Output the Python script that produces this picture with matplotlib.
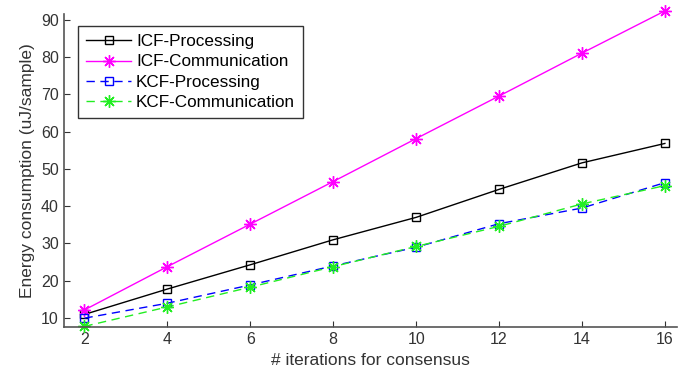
import matplotlib
matplotlib.use('Agg')
import matplotlib.pyplot as plt

plt.rcParams['font.family'] = ['Liberation Sans', 'DejaVu Sans']

iterations = [2, 4, 6, 8, 10, 12, 14, 16]
icf_proc = [11.0, 17.8, 24.3, 31.0, 37.0, 44.5, 51.6, 56.8]
icf_comm = [12.2, 23.8, 35.2, 46.6, 58.1, 69.5, 81.0, 92.3]
kcf_proc = [10.0, 14.0, 18.9, 24.0, 29.0, 35.3, 39.5, 46.3]
kcf_comm = [7.8, 13.0, 18.3, 23.8, 29.2, 34.6, 40.6, 45.5]

fig = plt.figure(figsize=(6.78, 3.76), dpi=100)
ax = fig.add_axes([0.094, 0.13, 0.905, 0.833])

star = (8, 2, 0)
ax.plot(iterations, icf_proc, color='black', marker='s', markersize=6,
        markerfacecolor='none', linewidth=1, label='ICF-Processing', clip_on=False)
ax.plot(iterations, icf_comm, color='magenta', marker=star, markersize=9,
        linewidth=1, label='ICF-Communication', clip_on=False)
ax.plot(iterations, kcf_proc, color='blue', marker='s', markersize=6,
        markerfacecolor='none', linewidth=1, linestyle=(0, (6, 4)),
        label='KCF-Processing', clip_on=False)
ax.plot(iterations, kcf_comm, color='#22ee22', marker=star, markersize=9,
        linewidth=1, linestyle=(0, (6, 4)), label='KCF-Communication', clip_on=False)

ax.set_xlim(1.5, 16.3)
ax.set_ylim(7.6, 91.5)
ax.set_xticks(iterations)
ax.set_yticks(range(10, 100, 10))
ax.tick_params(direction='in', length=4, labelsize=11.5, colors='#333333')
for s in ['top', 'right']:
    ax.spines[s].set_visible(False)
for s in ['left', 'bottom']:
    ax.spines[s].set_color('#555555')
    ax.spines[s].set_linewidth(1.2)

ax.set_xlabel('# iterations for consensus', fontsize=12.5, color='#333333')
ax.set_ylabel('Energy consumption (uJ/sample)', fontsize=12.5, color='#333333')

leg = ax.legend(loc='upper left', bbox_to_anchor=(0.023, 0.962), fontsize=12.3,
                fancybox=False, framealpha=1, edgecolor='#333333',
                borderpad=0.5, labelspacing=0.3, handlelength=2.6,
                handletextpad=0.3, borderaxespad=0)
leg.get_frame().set_linewidth(1)

fig.savefig('out.png', dpi=100)
